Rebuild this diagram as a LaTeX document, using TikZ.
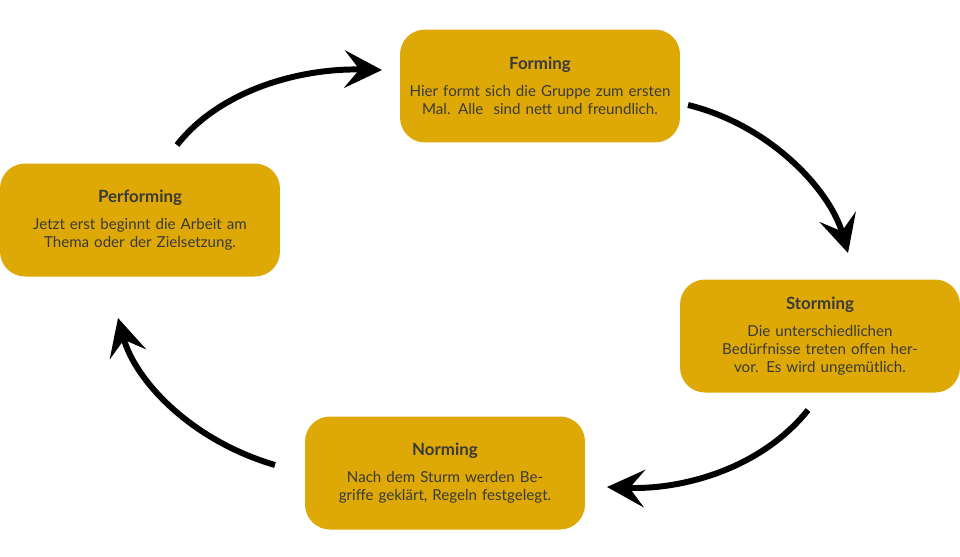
\documentclass[tikz,border=0pt]{standalone}
\usepackage{fontspec}
\setmainfont{Lato}
\usepackage{tikz}
\usetikzlibrary{arrows.meta}
\definecolor{phase}{HTML}{DEA806}
\definecolor{ink}{HTML}{3A3A3A}
\tikzset{
    phasebox/.style = {fill = phase, rounded corners = 0.5cm, minimum width = 5.6cm,
        minimum height = 2.26cm, text width = 5.3cm, align = center, text = ink,
        font = \fontsize{8.6}{10.4}\selectfont},
    cycle/.style = {line width = 3.4pt, -{Stealth[length = 0.75cm, width = 0.75cm, inset = 0.3cm]}}
}
\newcommand{\phasetitle}[1]{{\bfseries\fontsize{9.6}{11}\selectfont #1}\\[5pt]}

\begin{document}
\begin{tikzpicture}[x = 0.02cm, y = -0.02cm]
    \useasboundingbox (0, 0) rectangle (960, 556);
    % phases
    \node [phasebox] (forming) at (540, 86) {\phasetitle{Forming}Hier formt sich die Gruppe zum ersten Mal. Alle\ \ sind nett und freundlich.};
    \node [phasebox] (storming) at (820, 336) {\phasetitle{Storming}Die unterschiedlichen Bedürfnisse treten offen hervor. Es wird ungemütlich.};
    \node [phasebox] (norming) at (445, 473) {\phasetitle{Norming}Nach dem Sturm werden Begriffe geklärt, Regeln festgelegt.};
    \node [phasebox] (performing) at (140, 220) {\phasetitle{Performing}Jetzt erst beginnt die Arbeit am Thema oder der Zielsetzung.};
    % arrow ends
    \coordinate (a1) at (177, 145); \coordinate (b1) at (382, 70);
    \coordinate (a2) at (688, 105); \coordinate (b2) at (848, 253);
    \coordinate (a3) at (808, 410); \coordinate (b3) at (607, 487);
    \coordinate (a4) at (275, 465); \coordinate (b4) at (118, 318);
    \draw [cycle] (a1) .. controls (220, 90) and (300, 68) .. (b1);
    \draw [cycle] (a2) .. controls (770, 125) and (830, 190) .. (b2);
    \draw [cycle] (a3) .. controls (760, 470) and (680, 490) .. (b3);
    \draw [cycle] (a4) .. controls (190, 440) and (135, 380) .. (b4);
\end{tikzpicture}
\end{document}
